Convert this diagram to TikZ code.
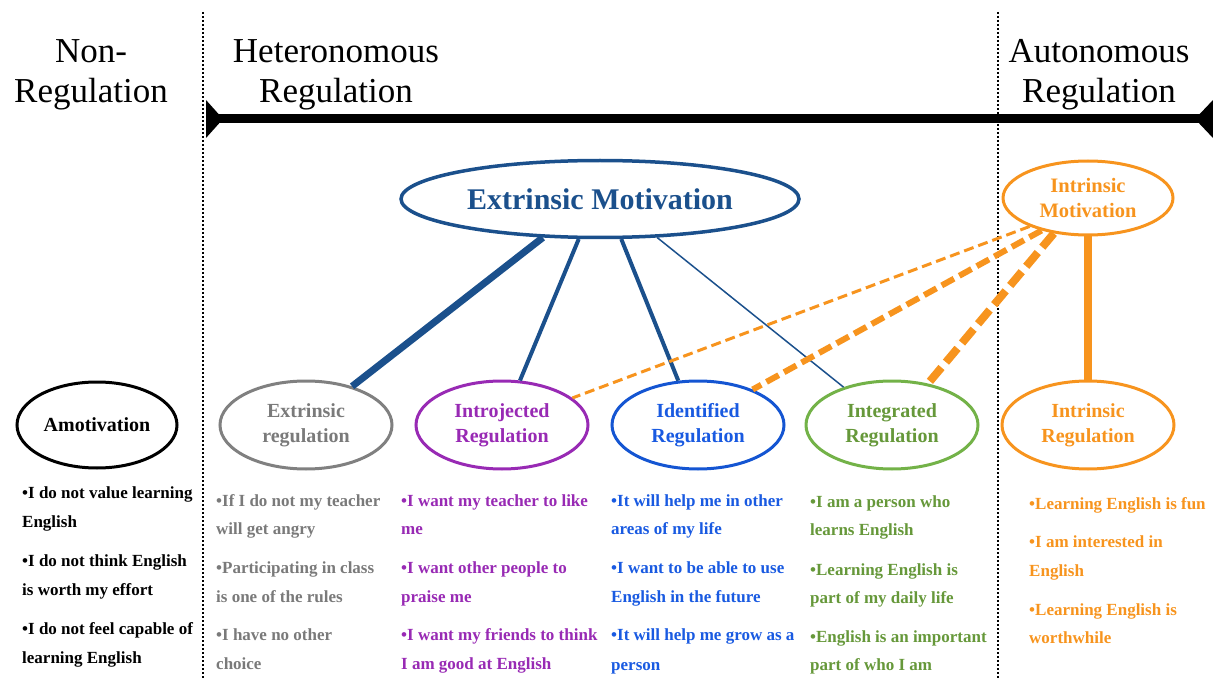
\documentclass[tikz,border=0pt]{standalone}
\usepackage{fontspec}
\setmainfont{Liberation Serif}
\usetikzlibrary{shapes.geometric}
\definecolor{emblue}{RGB}{27,80,140}
\definecolor{regdgray}{RGB}{128,128,128}
\definecolor{regtgray}{RGB}{122,122,122}
\definecolor{intropurple}{RGB}{152,42,180}
\definecolor{identblue}{RGB}{20,85,210}
\definecolor{identtext}{RGB}{25,90,225}
\definecolor{integgreen}{RGB}{115,178,72}
\definecolor{integtext}{RGB}{102,152,58}
\definecolor{intorange}{RGB}{247,148,30}
\tikzset{
  header/.style={align=center, font=\fontsize{35}{40}\selectfont, inner sep=0},
  ell/.style={ellipse, draw, inner sep=0, line width=3, minimum width=172, minimum height=88,
    align=center, font=\fontsize{20}{25}\selectfont\bfseries},
  bul/.style={anchor=base west, inner sep=0, font=\fontsize{17}{17}\selectfont\bfseries},
  divider/.style={line width=1.4, dash pattern=on 2pt off 2pt},
  emlink/.style={emblue},
  imlink/.style={intorange},
}
\begin{document}
\begin{tikzpicture}[x=1pt,y=-1pt]
\useasboundingbox (0,0) rectangle (1213,679);

% section dividers
\coordinate (d1t) at (203,12);
\coordinate (d1b) at (203,679);
\coordinate (d2t) at (998,12);
\coordinate (d2b) at (998,679);
\draw[divider] (d1t) -- (d1b);
\draw[divider] (d2t) -- (d2b);

% headers (base anchor sits on the last line)
\node[header, anchor=base] (hnon) at (91,103) {Non-\\Regulation};
\node[header, anchor=base] (hhet) at (336,103) {Heteronomous\\Regulation};
\node[header, anchor=base] (haut) at (1099,103) {Autonomous\\Regulation};

% continuum bar
\coordinate (barL) at (206,119);
\coordinate (barR) at (1211,119);
\draw[line width=9] (barL) -- (barR);
\fill (206,100) -- (223,119) -- (206,138) -- cycle;
\fill (1213,100) -- (1195,119) -- (1213,138) -- cycle;

% motivation ellipses
\node[ell, draw=emblue, text=emblue, line width=3.5, minimum width=398, minimum height=77,
  font=\fontsize{30}{32}\selectfont\bfseries] (em) at (600,199) {Extrinsic Motivation};
\node[ell, draw=intorange, text=intorange, minimum width=170, minimum height=74,
  font=\fontsize{20.5}{25}\selectfont\bfseries] (im) at (1088,198) {Intrinsic\\Motivation};

% regulation ellipses
\node[ell, draw=black, text=black, minimum width=160, minimum height=86] (amo) at (97,425) {Amotivation};
\node[ell, draw=regdgray, text=regtgray] (ext) at (306,425) {Extrinsic\\regulation};
\node[ell, draw=intropurple, text=intropurple] (intro) at (502,425) {Introjected\\Regulation};
\node[ell, draw=identblue, text=identtext] (ident) at (698,425) {Identified\\Regulation};
\node[ell, draw=integgreen, text=integtext] (integ) at (892,425) {Integrated\\Regulation};
\node[ell, draw=intorange, text=intorange] (intr) at (1088,425) {Intrinsic\\Regulation};

% extrinsic motivation links
\draw[emlink, line width=7] (em.214) -- (ext.40);
\draw[emlink, line width=4] (em.242) -- (intro.68);
\draw[emlink, line width=4] (em.298) -- (ident.114);
\draw[emlink, line width=1.5] (em.326) -- (integ.142);

% intrinsic motivation links
\draw[imlink, line width=3, dash pattern=on 10pt off 5pt] (im.206) -- (intro.21);
\draw[imlink, line width=6, dash pattern=on 14pt off 6pt] (im.215) -- (ident.33);
\draw[imlink, line width=8, dash pattern=on 18pt off 7pt] (im.226) -- (integ.49);
\draw[imlink, line width=8] (im.south) -- (intr.north);

% amotivation items
\begin{scope}[every node/.append style={text=black}]
\node[bul] (a1) at (22,498) {•I do not value learning};
\node[bul] (a1b) at (22,527) {English};
\node[bul] (a2) at (22,566) {•I do not think English};
\node[bul] (a2b) at (22,595) {is worth my effort};
\node[bul] (a3) at (22,634) {•I do not feel capable of};
\node[bul] (a3b) at (22,663) {learning English};
\end{scope}

% extrinsic regulation items
\begin{scope}[every node/.append style={text=regtgray}]
\node[bul] (e1) at (216,506) {•If I do not my teacher};
\node[bul] (e1b) at (216,534) {will get angry};
\node[bul] (e2) at (216,573) {•Participating in class};
\node[bul] (e2b) at (216,602) {is one of the rules};
\node[bul] (e3) at (216,640) {•I have no other};
\node[bul] (e3b) at (216,669) {choice};
\end{scope}

% introjected regulation items
\begin{scope}[every node/.append style={text=intropurple}]
\node[bul] (p1) at (401,506) {•I want my teacher to like};
\node[bul] (p1b) at (401,534) {me};
\node[bul] (p2) at (401,573) {•I want other people to};
\node[bul] (p2b) at (401,602) {praise me};
\node[bul] (p3) at (401,640) {•I want my friends to think};
\node[bul] (p3b) at (401,669) {I am good at English};
\end{scope}

% identified regulation items
\begin{scope}[every node/.append style={text=identtext}]
\node[bul] (b1) at (611,506) {•It will help me in other};
\node[bul] (b1b) at (611,534) {areas of my life};
\node[bul] (b2) at (611,573) {•I want to be able to use};
\node[bul] (b2b) at (611,602) {English in the future};
\node[bul] (b3) at (611,640) {•It will help me grow as a};
\node[bul] (b3b) at (611,670) {person};
\end{scope}

% integrated regulation items
\begin{scope}[every node/.append style={text=integtext}]
\node[bul] (g1) at (810,507) {•I am a person who};
\node[bul] (g1b) at (810,535) {learns English};
\node[bul] (g2) at (810,575) {•Learning English is};
\node[bul] (g2b) at (810,603) {part of my daily life};
\node[bul] (g3) at (810,642) {•English is an important};
\node[bul] (g3b) at (810,670) {part of who I am};
\end{scope}

% intrinsic regulation items
\begin{scope}[every node/.append style={text=intorange}]
\node[bul] (o1) at (1029,509) {•Learning English is fun};
\node[bul] (o2) at (1029,547) {•I am interested in};
\node[bul] (o2b) at (1029,576) {English};
\node[bul] (o3) at (1029,615) {•Learning English is};
\node[bul] (o3b) at (1029,643) {worthwhile};
\end{scope}
\end{tikzpicture}
\end{document}
